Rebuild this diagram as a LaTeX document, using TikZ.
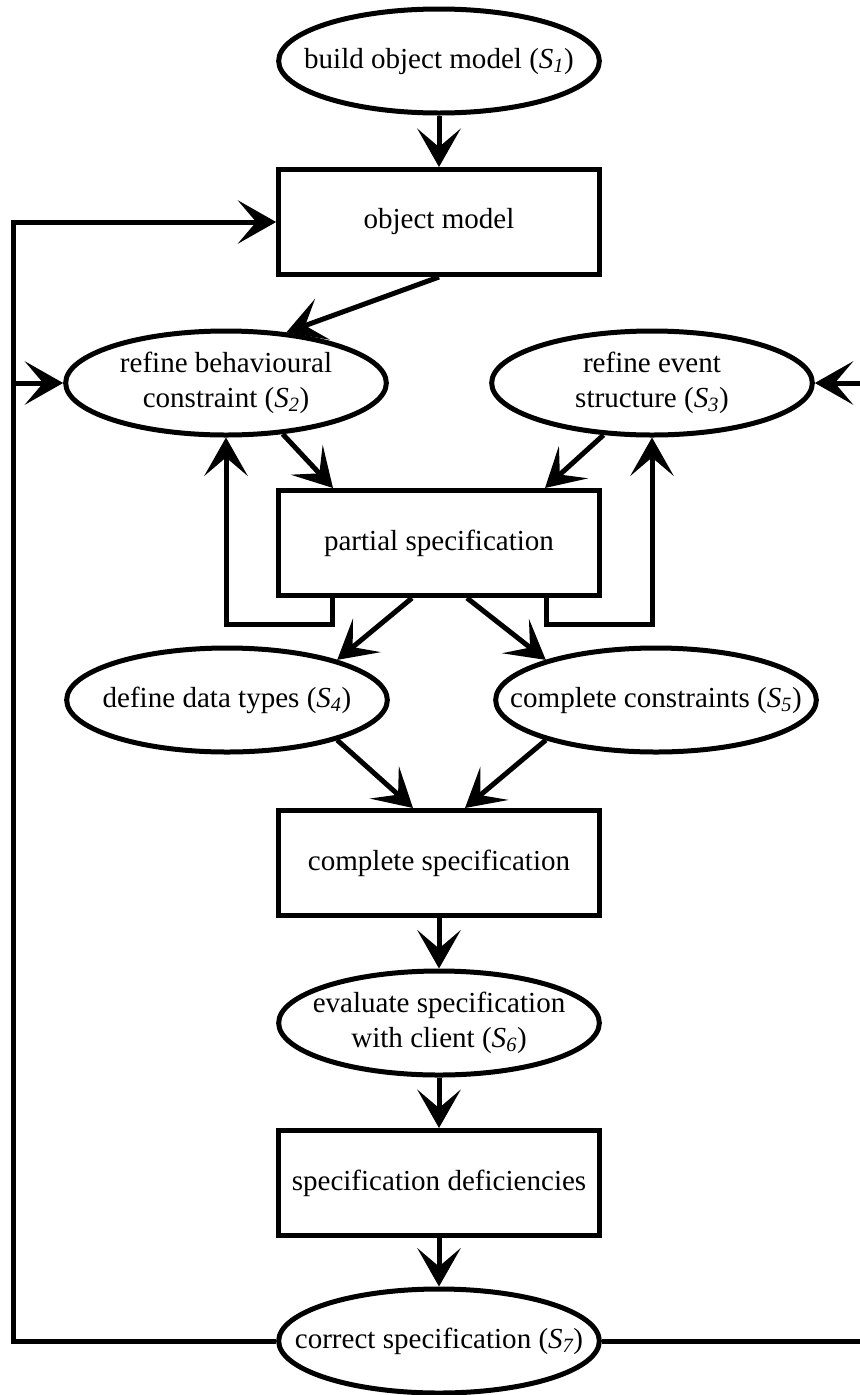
\documentclass[tikz,border=0pt]{standalone}
\usepackage{fontspec}
\setmainfont{Liberation Serif}
\usetikzlibrary{arrows.meta,calc,shapes.geometric}
\newcommand{\Sn}[1]{\textit{S\textsubscript{#1}}}
\newcommand{\ovl}[1]{\makebox[0pt]{\begin{tabular}{@{}c@{}}#1\end{tabular}}}
\tikzset{>={Stealth[length=1.15cm,width=1.3cm,inset=.55cm]},
  every picture/.style={line width=.15cm},
  every node/.style={font=\fontsize{24.8pt}{29.9pt}\selectfont},
  stage/.style={draw,rectangle,minimum width=9.62cm,minimum height=3.15cm,inner sep=0pt},
  oval/.style={draw,ellipse,minimum width=9.62cm,minimum height=3.12cm,inner sep=0pt},
  flow/.style={->}}

\begin{document}
\begin{tikzpicture}[x=.03cm,y=-.03cm]
\useasboundingbox (0,0) rectangle (859,1395);
\node[oval] (s1) at (439,61) {\ovl{build object model (\Sn{1})}};
\node[stage] (obj) at (439,222) {object model};
\node[oval] (s2) at (226,383) {\ovl{refine behavioural\\constraint (\Sn{2})}};
\node[oval] (s3) at (652,383) {\ovl{refine event\\structure (\Sn{3})}};
\node[stage] (part) at (439,543) {partial specification};
\node[oval] (s4) at (227,700) {\ovl{define data types (\Sn{4})}};
\node[oval] (s5) at (656,700) {\ovl{complete constraints (\Sn{5})}};
\node[stage] (comp) at (439,863) {complete specification};
\node[oval] (s6) at (439,1023) {\ovl{evaluate specification\\with client (\Sn{6})}};
\node[stage] (defic) at (439,1183) {specification deficiencies};
\node[oval] (s7) at (439,1341) {\ovl{correct specification (\Sn{7})}};
\coordinate (lft) at (13,1341);
\coordinate (rgt) at (863,1341);
% main chain
\draw[flow] (s1) -- (obj);
\draw[flow] (obj.south) -- (s2.40);
\draw[flow] (s2.-42) -- ($(part.north)+(-106,0)$);
\draw[flow] (s3.-133) -- ($(part.north)+(106,0)$);
\draw[flow] ($(part.south)+(-107,0)$) -- ++(0,26) -| (s2.south);
\draw[flow] ($(part.south)+(107,0)$) -- ++(0,26) -| (s3.south);
\draw[flow] ($(part.south)+(-27,0)$) -- (s4.20);
\draw[flow] ($(part.south)+(28,0)$) -- (s5.160);
\draw[flow] (s4.-20) -- ($(comp.north)+(-26,0)$);
\draw[flow] (s5.-160) -- ($(comp.north)+(26,0)$);
\draw[flow] (comp) -- (s6);
\draw[flow] (s6) -- (defic);
\draw[flow] (defic) -- (s7);
% loops back
\draw[flow] (s7) -- (lft) |- (obj);
\draw[flow] (lft |- s2) -- (s2);
\draw[flow] (s7) -- (rgt) |- (s3);
\end{tikzpicture}
\end{document}
